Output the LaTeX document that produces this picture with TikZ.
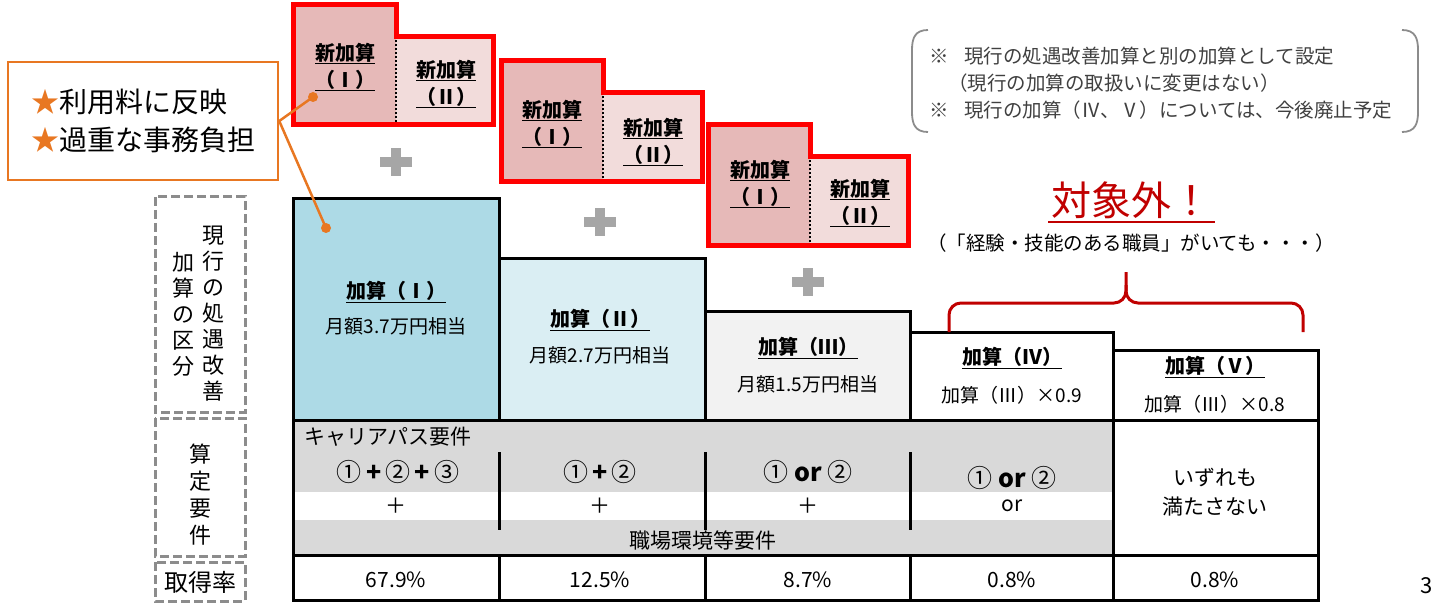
\documentclass[tikz,border=0pt]{standalone}
\usepackage{fontspec}
\setmainfont{Noto Sans CJK JP}
\newcommand\fsz[2]{\fontsize{#1}{#2}\selectfont}
\definecolor{orangec}{RGB}{232,119,34}
\definecolor{boxone}{HTML}{ADDAE6}
\definecolor{boxtwo}{HTML}{DAEEF3}
\definecolor{boxthree}{HTML}{F2F2F2}
\definecolor{reqgray}{HTML}{D9D9D9}
\definecolor{newred}{HTML}{FF0000}
\definecolor{newleft}{HTML}{E6B9B8}
\definecolor{newright}{HTML}{F2DCDB}
\definecolor{darkred}{HTML}{C00000}
\definecolor{plusgray}{HTML}{A6A6A6}
\definecolor{notegray}{HTML}{404040}
\definecolor{dashgray}{HTML}{8C8C8C}
\tikzset{
  tbl/.style={draw=black, line width=3pt, line cap=rect, line join=miter},
  newline/.style={draw=newred, line width=5pt, line join=miter},
  newtxt/.style={font=\bfseries\fsz{20}{27}, align=center, inner sep=0},
  hd/.style={font=\bfseries\fsz{20}{24}, inner sep=0},
  sub/.style={font=\fsz{19}{23}, inner sep=0},
  cell/.style={font=\fsz{21}{25}, inner sep=0},
  note/.style={font=\fsz{19.5}{23}, text=notegray, inner sep=0, anchor=west},
  dashbox/.style={draw=dashgray, line width=3pt, dash pattern=on 9pt off 4pt},
  vlabel/.style={font=\fsz{22}{26}, align=center, inner sep=0},
  dot/.style={circle, fill=orangec, inner sep=0, minimum size=10pt},
  formula/.style={font=\fsz{25}{29}, inner sep=0},
}
\newcommand\plusmark[2]{%
  \fill[plusgray] (#1-16,#2-5) rectangle (#1+16,#2+5);
  \fill[plusgray] (#1-5,#2-14) rectangle (#1+5,#2+14);}
\begin{document}
\begin{tikzpicture}[x=1pt,y=-1pt]
\useasboundingbox (0,0) rectangle (1432,604);

% ---------- new addition stepped boxes ----------
% group 1
\fill[newleft] (293,5) rectangle (396,125);
\fill[newright] (396,37) rectangle (493,125);
\draw[black, line width=2pt, dotted] (396,40) -- (396,123);
\draw[newline] (293,5) -- (396,5) -- (396,37) -- (493,37) -- (493,125) -- (293,125) -- cycle;
\node[newtxt] (g1a) at (345,67) {\underline{新加算}\\\underline{（Ⅰ）}};
\node[newtxt] (g1b) at (446,84) {\underline{新加算}\\\underline{（Ⅱ）}};
% group 2
\fill[newleft] (501,61) rectangle (603,182);
\fill[newright] (603,93) rectangle (702,182);
\draw[black, line width=2pt, dotted] (603,96) -- (603,180);
\draw[newline] (501,61) -- (603,61) -- (603,93) -- (702,93) -- (702,182) -- (501,182) -- cycle;
\node[newtxt] (g2a) at (552,124) {\underline{新加算}\\\underline{（Ⅰ）}};
\node[newtxt] (g2b) at (653,142) {\underline{新加算}\\\underline{（Ⅱ）}};
% group 3
\fill[newleft] (708,125) rectangle (810,245);
\fill[newright] (810,157) rectangle (908,245);
\draw[black, line width=2pt, dotted] (810,160) -- (810,243);
\draw[newline] (708,125) -- (810,125) -- (810,157) -- (908,157) -- (908,245) -- (708,245) -- cycle;
\node[newtxt] (g3a) at (760,184) {\underline{新加算}\\\underline{（Ⅰ）}};
\node[newtxt] (g3b) at (860,203) {\underline{新加算}\\\underline{（Ⅱ）}};

% plus marks
\plusmark{396}{162}
\plusmark{600}{222}
\plusmark{808}{282}

% ---------- current addition boxes ----------
\fill[boxone] (293,199) rectangle (499,420);
\fill[boxtwo] (499,258) rectangle (705,420);
\fill[boxthree] (705,311) rectangle (910,420);
\fill[reqgray] (293,420) rectangle (1113,555);
\fill[white] (293,492) rectangle (1113,520);

\draw[tbl] (293,600) -- (293,199) -- (499,199) -- (499,420);
\draw[tbl] (499,258) -- (705,258) -- (705,420);
\draw[tbl] (705,311) -- (910,311) -- (910,420);
\draw[tbl] (910,332) -- (1113,332) -- (1113,600);
\draw[tbl] (1113,350) -- (1318,350) -- (1318,600);
\draw[tbl] (293,420) -- (1318,420);
\draw[tbl] (293,555) -- (1318,555);
\draw[tbl] (293,600) -- (1318,600);
\foreach \xx in {499,705,910} {
  \draw[tbl] (\xx,555) -- (\xx,600);
  \draw[tbl] (\xx,453) -- (\xx,528);
}

\node[hd] (h1) at (396,292) {\underline{加算（Ⅰ）}};
\node[sub] (s1) at (396,326) {月額3.7万円相当};
\node[hd] (h2) at (600,320) {\underline{加算（Ⅱ）}};
\node[sub] (s2) at (600,355) {月額2.7万円相当};
\node[hd] (h3) at (808,348) {\underline{加算（Ⅲ）}};
\node[sub] (s3) at (808,384) {月額1.5万円相当};
\node[hd] (h4) at (1012,358) {\underline{加算（Ⅳ）}};
\node[sub] (s4) at (1012,395) {加算（Ⅲ）×0.9};
\node[hd] (h5) at (1215,367) {\underline{加算（Ⅴ）}};
\node[sub] (s5) at (1215,404) {加算（Ⅲ）×0.8};

% requirement row
\node[cell, anchor=west] (career) at (304,437) {キャリアパス要件};
\node[formula] (r1) at (398,472) {①\,\textbf{+}\,②\,\textbf{+}\,③};
\node[formula] (r2) at (600,472) {①\,\textbf{+}\,②};
\node[formula] (r3) at (808,472) {① \textbf{or} ②};
\node[formula] (r4) at (1012,478) {① \textbf{or} ②};
\node[cell] (p1) at (396,506) {＋};
\node[cell] (p2) at (600,506) {＋};
\node[cell] (p3) at (808,506) {＋};
\node[cell] (p4) at (1012,506) {or};
\node[cell] (env) at (703,541) {職場環境等要件};
\node[cell, align=center, font=\fsz{21}{29}] (none) at (1215,492) {いずれも\\満たさない};

% rate row
\node[cell] (q1) at (396,580) {67.9\%};
\node[cell] (q2) at (600,580) {12.5\%};
\node[cell] (q3) at (808,580) {8.7\%};
\node[cell] (q4) at (1012,580) {0.8\%};
\node[cell] (q5) at (1215,580) {0.8\%};

% left labels
\draw[dashbox] (155,197) rectangle (245,412);
\draw[dashbox] (155,418) rectangle (245,556);
\draw[dashbox] (155,562) rectangle (245,601);
\node[vlabel] (lab1a) at (213,314) {現\\行\\の\\処\\遇\\改\\善};
\node[vlabel] (lab1b) at (183,314) {加\\算\\の\\区\\分};
\node[vlabel, font=\fsz{22}{27}] (lab2) at (200,495) {算\\定\\要\\件};
\node[vlabel, font=\fsz{24}{28}] (lab3) at (200,582) {取得率};

% callout
\node[draw=orangec, line width=2.5pt, minimum width=270pt, minimum height=118pt, inner sep=0, align=left, font=\fsz{28}{38}] (callout) at (143,121) {\textcolor{orangec}{★}利用料に反映\\\textcolor{orangec}{★}過重な事務負担};
\node[dot] (dot1) at (313,97) {};
\node[dot] (dot2) at (326,228) {};
\draw[orangec, line width=2.5pt] (callout.east) -- (dot1.center);
\draw[orangec, line width=2.5pt] (callout.east) -- (dot2.center);

% note (top right)
\draw[dashgray, line width=1.8pt] (928,30) .. controls (915,30) and (912,38) .. (912,50) -- (912,112) .. controls (912,124) and (915,132) .. (928,132);
\draw[dashgray, line width=1.8pt] (1402,30) .. controls (1415,30) and (1418,38) .. (1418,50) -- (1418,112) .. controls (1418,124) and (1415,132) .. (1402,132);
\node[note] (n1) at (929,56) {※\hspace{0.8em}現行の処遇改善加算と別の加算として設定};
\node[note] (n2) at (948,83) {（現行の加算の取扱いに変更はない）};
\node[note] (n3) at (929,110) {※\hspace{0.8em}現行の加算（Ⅳ、Ⅴ）については、今後廃止予定};

% out of scope
\node[font=\fsz{40}{44}, text=darkred, inner sep=0] (out) at (1131,200) {対象外！};
\draw[darkred, line width=2pt] (1048,222) -- (1215,222);
\node[font=\fsz{19.5}{23}, inner sep=0] (outsub) at (1131,243) {（「経験・技能のある職員」がいても・・・）};
\draw[darkred, line width=3pt, rounded corners=12] (949,332) |- (1126,303) -- (1126,272);
\draw[darkred, line width=3pt, rounded corners=12] (1303,332) |- (1126,303) -- (1126,285);

% page number
\node[font=\fsz{22}{26}, inner sep=0] (page) at (1427,586) {3};
\end{tikzpicture}
\end{document}
